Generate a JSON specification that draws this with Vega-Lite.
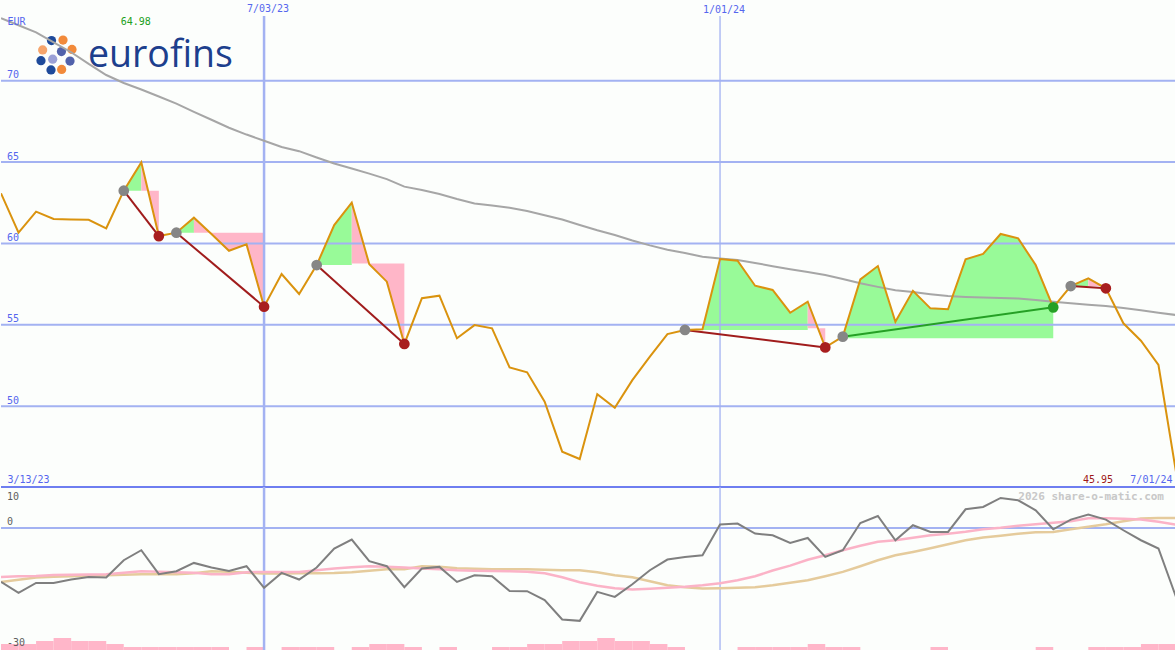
{
  "$schema": "https://vega.github.io/schema/vega-lite/v6.json",
  "background": "#fcfefc",
  "padding": 0,
  "spacing": 0,
  "bounds": "flush",
  "config": {
    "view": {"stroke": null},
    "text": {"font": "DejaVu Sans Mono", "fontSize": 10, "baseline": "alphabetic"}
  },
  "datasets": {
    "price": [
      {"d":"2023-03-20","v":63.08},{"d":"2023-03-27","v":60.66},{"d":"2023-04-03","v":61.95},{"d":"2023-04-10","v":61.5},{"d":"2023-04-17","v":61.47},{"d":"2023-04-24","v":61.45},{"d":"2023-05-01","v":60.93},{"d":"2023-05-08","v":63.24},{"d":"2023-05-15","v":64.98},{"d":"2023-05-22","v":60.45},
      {"d":"2023-05-29","v":60.66},{"d":"2023-06-05","v":61.58},{"d":"2023-06-12","v":60.58},{"d":"2023-06-19","v":59.55},{"d":"2023-06-26","v":59.94},{"d":"2023-07-03","v":56.11},{"d":"2023-07-10","v":58.12},{"d":"2023-07-17","v":56.89},{"d":"2023-07-24","v":58.67},{"d":"2023-07-31","v":61.13},
      {"d":"2023-08-07","v":62.5},{"d":"2023-08-14","v":58.72},{"d":"2023-08-21","v":57.65},{"d":"2023-08-28","v":53.82},{"d":"2023-09-04","v":56.63},{"d":"2023-09-11","v":56.79},{"d":"2023-09-18","v":54.17},{"d":"2023-09-25","v":54.98},{"d":"2023-10-02","v":54.78},{"d":"2023-10-09","v":52.38},
      {"d":"2023-10-16","v":52.08},{"d":"2023-10-23","v":50.27},{"d":"2023-10-30","v":47.2},{"d":"2023-11-06","v":46.75},{"d":"2023-11-13","v":50.74},{"d":"2023-11-20","v":49.9},{"d":"2023-11-27","v":51.6},{"d":"2023-12-04","v":53.04},{"d":"2023-12-11","v":54.43},{"d":"2023-12-18","v":54.68},
      {"d":"2023-12-25","v":54.72},{"d":"2024-01-01","v":59.04},{"d":"2024-01-08","v":58.94},{"d":"2024-01-15","v":57.4},{"d":"2024-01-22","v":57.14},{"d":"2024-01-29","v":55.74},{"d":"2024-02-05","v":56.42},{"d":"2024-02-12","v":53.61},{"d":"2024-02-19","v":54.27},{"d":"2024-02-26","v":57.79},
      {"d":"2024-03-04","v":58.61},{"d":"2024-03-11","v":55.19},{"d":"2024-03-18","v":57.09},{"d":"2024-03-25","v":56.01},{"d":"2024-04-01","v":55.95},{"d":"2024-04-08","v":59.02},{"d":"2024-04-15","v":59.35},{"d":"2024-04-22","v":60.58},{"d":"2024-04-29","v":60.31},{"d":"2024-05-06","v":58.67},
      {"d":"2024-05-13","v":56.07},{"d":"2024-05-20","v":57.38},{"d":"2024-05-27","v":57.85},{"d":"2024-06-03","v":57.24},{"d":"2024-06-10","v":55.09},{"d":"2024-06-17","v":54.02},{"d":"2024-06-24","v":52.53},{"d":"2024-07-01","v":45.95}
    ],
    "ma": [
      {"d":"2023-03-20","v":73.84},{"d":"2023-03-27","v":73.41},{"d":"2023-04-03","v":72.97},{"d":"2023-04-10","v":72.36},{"d":"2023-04-17","v":71.75},{"d":"2023-04-24","v":71.03},{"d":"2023-05-01","v":70.35},{"d":"2023-05-08","v":69.86},{"d":"2023-05-15","v":69.46},{"d":"2023-05-22","v":69.03},
      {"d":"2023-05-29","v":68.59},{"d":"2023-06-05","v":68.09},{"d":"2023-06-12","v":67.6},{"d":"2023-06-19","v":67.11},{"d":"2023-06-26","v":66.69},{"d":"2023-07-03","v":66.31},{"d":"2023-07-10","v":65.93},{"d":"2023-07-17","v":65.67},{"d":"2023-07-24","v":65.28},{"d":"2023-07-31","v":64.91},
      {"d":"2023-08-07","v":64.6},{"d":"2023-08-14","v":64.29},{"d":"2023-08-21","v":63.95},{"d":"2023-08-28","v":63.49},{"d":"2023-09-04","v":63.28},{"d":"2023-09-11","v":63.04},{"d":"2023-09-18","v":62.73},{"d":"2023-09-25","v":62.45},{"d":"2023-10-02","v":62.33},{"d":"2023-10-09","v":62.19},
      {"d":"2023-10-16","v":61.99},{"d":"2023-10-23","v":61.73},{"d":"2023-10-30","v":61.47},{"d":"2023-11-06","v":61.13},{"d":"2023-11-13","v":60.81},{"d":"2023-11-20","v":60.52},{"d":"2023-11-27","v":60.18},{"d":"2023-12-04","v":59.88},{"d":"2023-12-11","v":59.61},{"d":"2023-12-18","v":59.41},
      {"d":"2023-12-25","v":59.18},{"d":"2024-01-01","v":59.07},{"d":"2024-01-08","v":58.98},{"d":"2024-01-15","v":58.8},{"d":"2024-01-22","v":58.6},{"d":"2024-01-29","v":58.41},{"d":"2024-02-05","v":58.24},{"d":"2024-02-12","v":58.06},{"d":"2024-02-19","v":57.81},{"d":"2024-02-26","v":57.55},
      {"d":"2024-03-04","v":57.33},{"d":"2024-03-11","v":57.12},{"d":"2024-03-18","v":57.01},{"d":"2024-03-25","v":56.88},{"d":"2024-04-01","v":56.77},{"d":"2024-04-08","v":56.71},{"d":"2024-04-15","v":56.67},{"d":"2024-04-22","v":56.64},{"d":"2024-04-29","v":56.61},{"d":"2024-05-06","v":56.52},
      {"d":"2024-05-13","v":56.41},{"d":"2024-05-20","v":56.32},{"d":"2024-05-27","v":56.23},{"d":"2024-06-03","v":56.15},{"d":"2024-06-10","v":56.03},{"d":"2024-06-17","v":55.89},{"d":"2024-06-24","v":55.74},{"d":"2024-07-01","v":55.6}
    ],
    "osc": [
      {"d":"2023-03-20","v":-13.17},{"d":"2023-03-27","v":-15.85},{"d":"2023-04-03","v":-13.41},{"d":"2023-04-10","v":-13.41},{"d":"2023-04-17","v":-12.59},{"d":"2023-04-24","v":-11.95},{"d":"2023-05-01","v":-12.1},{"d":"2023-05-08","v":-7.88},{"d":"2023-05-15","v":-5.44},{"d":"2023-05-22","v":-11.29},
      {"d":"2023-05-29","v":-10.56},{"d":"2023-06-05","v":-8.54},{"d":"2023-06-12","v":-9.66},{"d":"2023-06-19","v":-10.49},{"d":"2023-06-26","v":-9.34},{"d":"2023-07-03","v":-14.63},{"d":"2023-07-10","v":-10.98},{"d":"2023-07-17","v":-12.59},{"d":"2023-07-24","v":-9.66},{"d":"2023-07-31","v":-5.02},
      {"d":"2023-08-07","v":-2.83},{"d":"2023-08-14","v":-8.12},{"d":"2023-08-21","v":-9.34},{"d":"2023-08-28","v":-14.46},{"d":"2023-09-04","v":-9.9},{"d":"2023-09-11","v":-9.51},{"d":"2023-09-18","v":-13.17},{"d":"2023-09-25","v":-11.54},{"d":"2023-10-02","v":-11.78},{"d":"2023-10-09","v":-15.37},
      {"d":"2023-10-16","v":-15.44},{"d":"2023-10-23","v":-17.63},{"d":"2023-10-30","v":-22.34},{"d":"2023-11-06","v":-22.68},{"d":"2023-11-13","v":-15.61},{"d":"2023-11-20","v":-16.83},{"d":"2023-11-27","v":-13.73},{"d":"2023-12-04","v":-10.32},{"d":"2023-12-11","v":-7.71},{"d":"2023-12-18","v":-7.07},
      {"d":"2023-12-25","v":-6.66},{"d":"2024-01-01","v":0.83},{"d":"2024-01-08","v":1.07},{"d":"2024-01-15","v":-1.37},{"d":"2024-01-22","v":-1.78},{"d":"2024-01-29","v":-3.66},{"d":"2024-02-05","v":-2.44},{"d":"2024-02-12","v":-7.07},{"d":"2024-02-19","v":-5.44},{"d":"2024-02-26","v":1.22},
      {"d":"2024-03-04","v":2.93},{"d":"2024-03-11","v":-3.0},{"d":"2024-03-18","v":0.66},{"d":"2024-03-25","v":-0.98},{"d":"2024-04-01","v":-0.98},{"d":"2024-04-08","v":4.56},{"d":"2024-04-15","v":5.12},{"d":"2024-04-22","v":7.32},{"d":"2024-04-29","v":6.76},{"d":"2024-05-06","v":4.32},
      {"d":"2024-05-13","v":-0.32},{"d":"2024-05-20","v":2.05},{"d":"2024-05-27","v":3.27},{"d":"2024-06-03","v":2.05},{"d":"2024-06-10","v":-0.56},{"d":"2024-06-17","v":-3.0},{"d":"2024-06-24","v":-5.02},{"d":"2024-07-01","v":-16.83}
    ],
    "sigpink": [
      {"d":"2023-03-20","v":-11.95},{"d":"2023-03-27","v":-11.78},{"d":"2023-04-03","v":-11.71},{"d":"2023-04-10","v":-11.46},{"d":"2023-04-17","v":-11.41},{"d":"2023-04-24","v":-11.37},{"d":"2023-05-01","v":-11.29},{"d":"2023-05-08","v":-10.93},{"d":"2023-05-15","v":-10.56},{"d":"2023-05-22","v":-10.68},
      {"d":"2023-05-29","v":-10.8},{"d":"2023-06-05","v":-10.93},{"d":"2023-06-12","v":-11.29},{"d":"2023-06-19","v":-11.29},{"d":"2023-06-26","v":-10.8},{"d":"2023-07-03","v":-10.73},{"d":"2023-07-10","v":-10.73},{"d":"2023-07-17","v":-10.73},{"d":"2023-07-24","v":-10.32},{"d":"2023-07-31","v":-9.9},
      {"d":"2023-08-07","v":-9.59},{"d":"2023-08-14","v":-9.34},{"d":"2023-08-21","v":-9.46},{"d":"2023-08-28","v":-9.66},{"d":"2023-09-04","v":-9.9},{"d":"2023-09-11","v":-10.07},{"d":"2023-09-18","v":-10.32},{"d":"2023-09-25","v":-10.44},{"d":"2023-10-02","v":-10.49},{"d":"2023-10-09","v":-10.56},
      {"d":"2023-10-16","v":-10.68},{"d":"2023-10-23","v":-11.05},{"d":"2023-10-30","v":-12.02},{"d":"2023-11-06","v":-13.24},{"d":"2023-11-13","v":-14.1},{"d":"2023-11-20","v":-14.71},{"d":"2023-11-27","v":-15.02},{"d":"2023-12-04","v":-14.83},{"d":"2023-12-11","v":-14.59},{"d":"2023-12-18","v":-14.34},
      {"d":"2023-12-25","v":-13.98},{"d":"2024-01-01","v":-13.49},{"d":"2024-01-08","v":-12.76},{"d":"2024-01-15","v":-11.78},{"d":"2024-01-22","v":-10.4},{"d":"2024-01-29","v":-9.2},{"d":"2024-02-05","v":-7.76},{"d":"2024-02-12","v":-6.66},{"d":"2024-02-19","v":-5.44},{"d":"2024-02-26","v":-4.34},
      {"d":"2024-03-04","v":-3.37},{"d":"2024-03-11","v":-3.0},{"d":"2024-03-18","v":-2.39},{"d":"2024-03-25","v":-1.78},{"d":"2024-04-01","v":-1.41},{"d":"2024-04-08","v":-0.93},{"d":"2024-04-15","v":-0.32},{"d":"2024-04-22","v":0.05},{"d":"2024-04-29","v":0.54},{"d":"2024-05-06","v":0.9},
      {"d":"2024-05-13","v":1.27},{"d":"2024-05-20","v":1.63},{"d":"2024-05-27","v":2.37},{"d":"2024-06-03","v":2.37},{"d":"2024-06-10","v":2.24},{"d":"2024-06-17","v":2.05},{"d":"2024-06-24","v":1.51},{"d":"2024-07-01","v":0.83}
    ],
    "sigtan": [
      {"d":"2023-03-20","v":-13.17},{"d":"2023-03-27","v":-12.63},{"d":"2023-04-03","v":-12.1},{"d":"2023-04-10","v":-11.9},{"d":"2023-04-17","v":-11.78},{"d":"2023-04-24","v":-11.66},{"d":"2023-05-01","v":-11.54},{"d":"2023-05-08","v":-11.41},{"d":"2023-05-15","v":-11.29},{"d":"2023-05-22","v":-11.29},
      {"d":"2023-05-29","v":-11.29},{"d":"2023-06-05","v":-11.05},{"d":"2023-06-12","v":-10.56},{"d":"2023-06-19","v":-10.68},{"d":"2023-06-26","v":-10.93},{"d":"2023-07-03","v":-11.12},{"d":"2023-07-10","v":-11.12},{"d":"2023-07-17","v":-11.05},{"d":"2023-07-24","v":-11.05},{"d":"2023-07-31","v":-10.98},
      {"d":"2023-08-07","v":-10.8},{"d":"2023-08-14","v":-10.44},{"d":"2023-08-21","v":-10.07},{"d":"2023-08-28","v":-10.07},{"d":"2023-09-04","v":-9.34},{"d":"2023-09-11","v":-9.46},{"d":"2023-09-18","v":-9.83},{"d":"2023-09-25","v":-9.95},{"d":"2023-10-02","v":-10.07},{"d":"2023-10-09","v":-10.07},
      {"d":"2023-10-16","v":-10.07},{"d":"2023-10-23","v":-10.2},{"d":"2023-10-30","v":-10.32},{"d":"2023-11-06","v":-10.32},{"d":"2023-11-13","v":-10.8},{"d":"2023-11-20","v":-11.54},{"d":"2023-11-27","v":-12.02},{"d":"2023-12-04","v":-13.0},{"d":"2023-12-11","v":-13.98},{"d":"2023-12-18","v":-14.46},
      {"d":"2023-12-25","v":-14.78},{"d":"2024-01-01","v":-14.71},{"d":"2024-01-08","v":-14.63},{"d":"2024-01-15","v":-14.46},{"d":"2024-01-22","v":-13.98},{"d":"2024-01-29","v":-13.37},{"d":"2024-02-05","v":-12.76},{"d":"2024-02-12","v":-11.78},{"d":"2024-02-19","v":-10.73},{"d":"2024-02-26","v":-9.34},
      {"d":"2024-03-04","v":-7.88},{"d":"2024-03-11","v":-6.66},{"d":"2024-03-18","v":-5.85},{"d":"2024-03-25","v":-4.95},{"d":"2024-04-01","v":-3.98},{"d":"2024-04-08","v":-3.0},{"d":"2024-04-15","v":-2.34},{"d":"2024-04-22","v":-1.9},{"d":"2024-04-29","v":-1.41},{"d":"2024-05-06","v":-1.05},
      {"d":"2024-05-13","v":-0.98},{"d":"2024-05-20","v":-0.32},{"d":"2024-05-27","v":0.29},{"d":"2024-06-03","v":0.9},{"d":"2024-06-10","v":1.63},{"d":"2024-06-17","v":2.29},{"d":"2024-06-24","v":2.44},{"d":"2024-07-01","v":2.44}
    ],
    "vol": [
      {"d":"2023-03-20","e":"2023-03-27","q":2},{"d":"2023-03-27","e":"2023-04-03","q":2},{"d":"2023-04-03","e":"2023-04-10","q":3},{"d":"2023-04-10","e":"2023-04-17","q":4},{"d":"2023-04-17","e":"2023-04-24","q":3},{"d":"2023-04-24","e":"2023-05-01","q":3},{"d":"2023-05-01","e":"2023-05-08","q":2},
      {"d":"2023-05-08","e":"2023-05-15","q":1},{"d":"2023-05-15","e":"2023-05-22","q":1},{"d":"2023-05-22","e":"2023-05-29","q":1},{"d":"2023-05-29","e":"2023-06-05","q":1},{"d":"2023-06-05","e":"2023-06-12","q":1},{"d":"2023-06-12","e":"2023-06-19","q":1},
      {"d":"2023-06-26","e":"2023-07-03","q":1},{"d":"2023-07-10","e":"2023-07-17","q":1},{"d":"2023-07-17","e":"2023-07-24","q":1},{"d":"2023-07-24","e":"2023-07-31","q":1},{"d":"2023-08-07","e":"2023-08-14","q":1},{"d":"2023-08-14","e":"2023-08-21","q":2},{"d":"2023-08-21","e":"2023-08-28","q":2},
      {"d":"2023-08-28","e":"2023-09-04","q":1},{"d":"2023-09-11","e":"2023-09-18","q":1},{"d":"2023-10-02","e":"2023-10-09","q":1},{"d":"2023-10-09","e":"2023-10-16","q":1},{"d":"2023-10-16","e":"2023-10-23","q":2},{"d":"2023-10-23","e":"2023-10-30","q":2},
      {"d":"2023-10-30","e":"2023-11-06","q":3},{"d":"2023-11-06","e":"2023-11-13","q":3},{"d":"2023-11-13","e":"2023-11-20","q":4},{"d":"2023-11-20","e":"2023-11-27","q":3},{"d":"2023-11-27","e":"2023-12-04","q":3},{"d":"2023-12-04","e":"2023-12-11","q":2},{"d":"2023-12-11","e":"2023-12-18","q":1},
      {"d":"2024-01-08","e":"2024-01-15","q":1},{"d":"2024-01-15","e":"2024-01-22","q":1},{"d":"2024-01-22","e":"2024-01-29","q":1},{"d":"2024-01-29","e":"2024-02-05","q":1},{"d":"2024-02-05","e":"2024-02-12","q":2},{"d":"2024-02-12","e":"2024-02-19","q":1},{"d":"2024-02-19","e":"2024-02-26","q":1},
      {"d":"2024-03-25","e":"2024-04-01","q":1},{"d":"2024-05-06","e":"2024-05-13","q":1},{"d":"2024-05-27","e":"2024-06-03","q":1},{"d":"2024-06-03","e":"2024-06-10","q":1},{"d":"2024-06-10","e":"2024-06-17","q":1},{"d":"2024-06-17","e":"2024-06-24","q":2},{"d":"2024-06-24","e":"2024-07-01","q":2}
    ],
    "zones": [
      {"z":"1g","c":"g","d":"2023-05-08","v":63.24,"b":63.24},{"z":"1g","c":"g","d":"2023-05-15","v":64.98,"b":63.24},
      {"z":"1r","c":"r","d":"2023-05-15","v":64.98,"b":63.24},{"z":"1r","c":"r","d":"2023-05-22","v":60.45,"b":63.24},
      {"z":"2g","c":"g","d":"2023-05-29","v":60.66,"b":60.66},{"z":"2g","c":"g","d":"2023-06-05","v":61.58,"b":60.66},
      {"z":"2r","c":"r","d":"2023-06-05","v":61.58,"b":60.66},{"z":"2r","c":"r","d":"2023-06-12","v":60.58,"b":60.66},{"z":"2r","c":"r","d":"2023-06-19","v":59.55,"b":60.66},{"z":"2r","c":"r","d":"2023-06-26","v":59.94,"b":60.66},{"z":"2r","c":"r","d":"2023-07-03","v":56.11,"b":60.66},
      {"z":"3g","c":"g","d":"2023-07-24","v":58.67,"b":58.67},{"z":"3g","c":"g","d":"2023-07-31","v":61.13,"b":58.67},{"z":"3g","c":"g","d":"2023-08-07","v":62.5,"b":58.67},
      {"z":"3r","c":"r","d":"2023-08-07","v":62.5,"b":58.77},{"z":"3r","c":"r","d":"2023-08-14","v":58.72,"b":58.77},{"z":"3r","c":"r","d":"2023-08-21","v":57.65,"b":58.77},{"z":"3r","c":"r","d":"2023-08-28","v":53.82,"b":58.77},
      {"z":"4g","c":"g","d":"2023-12-18","v":54.68,"b":54.68},{"z":"4g","c":"g","d":"2023-12-25","v":54.72,"b":54.68},{"z":"4g","c":"g","d":"2024-01-01","v":59.04,"b":54.68},{"z":"4g","c":"g","d":"2024-01-08","v":58.94,"b":54.68},{"z":"4g","c":"g","d":"2024-01-15","v":57.4,"b":54.68},{"z":"4g","c":"g","d":"2024-01-22","v":57.14,"b":54.68},{"z":"4g","c":"g","d":"2024-01-29","v":55.74,"b":54.68},{"z":"4g","c":"g","d":"2024-02-05","v":56.42,"b":54.68},
      {"z":"4r","c":"r","d":"2024-02-05","v":56.42,"b":54.78},{"z":"4r","c":"r","d":"2024-02-12","v":53.61,"b":54.78},
      {"z":"5g","c":"g","d":"2024-02-19","v":54.27,"b":54.17},{"z":"5g","c":"g","d":"2024-02-26","v":57.79,"b":54.17},{"z":"5g","c":"g","d":"2024-03-04","v":58.61,"b":54.17},{"z":"5g","c":"g","d":"2024-03-11","v":55.19,"b":54.17},{"z":"5g","c":"g","d":"2024-03-18","v":57.09,"b":54.17},{"z":"5g","c":"g","d":"2024-03-25","v":56.01,"b":54.17},{"z":"5g","c":"g","d":"2024-04-01","v":55.95,"b":54.17},{"z":"5g","c":"g","d":"2024-04-08","v":59.02,"b":54.17},{"z":"5g","c":"g","d":"2024-04-15","v":59.35,"b":54.17},{"z":"5g","c":"g","d":"2024-04-22","v":60.58,"b":54.17},{"z":"5g","c":"g","d":"2024-04-29","v":60.31,"b":54.17},{"z":"5g","c":"g","d":"2024-05-06","v":58.67,"b":54.17},{"z":"5g","c":"g","d":"2024-05-13","v":56.07,"b":54.17},
      {"z":"6g","c":"g","d":"2024-05-20","v":57.38,"b":57.38},{"z":"6g","c":"g","d":"2024-05-27","v":57.85,"b":57.38},
      {"z":"6r","c":"r","d":"2024-05-27","v":57.85,"b":57.38},{"z":"6r","c":"r","d":"2024-06-03","v":57.24,"b":57.38}
    ],
    "trend": [
      {"s":1,"c":"r","d":"2023-05-08","v":63.24},{"s":1,"c":"r","d":"2023-05-22","v":60.45},
      {"s":2,"c":"r","d":"2023-05-29","v":60.66},{"s":2,"c":"r","d":"2023-07-03","v":56.11},
      {"s":3,"c":"r","d":"2023-07-24","v":58.67},{"s":3,"c":"r","d":"2023-08-28","v":53.82},
      {"s":4,"c":"r","d":"2023-12-18","v":54.68},{"s":4,"c":"r","d":"2024-02-12","v":53.61},
      {"s":5,"c":"g","d":"2024-02-19","v":54.27},{"s":5,"c":"g","d":"2024-05-13","v":56.07},
      {"s":6,"c":"r","d":"2024-05-20","v":57.38},{"s":6,"c":"r","d":"2024-06-03","v":57.24}
    ],
    "dots": [
      {"k":"start","d":"2023-05-08","v":63.24},{"k":"start","d":"2023-05-29","v":60.66},{"k":"start","d":"2023-07-24","v":58.67},{"k":"start","d":"2023-12-18","v":54.68},{"k":"start","d":"2024-02-19","v":54.27},{"k":"start","d":"2024-05-20","v":57.38},
      {"k":"down","d":"2023-05-22","v":60.45},{"k":"down","d":"2023-07-03","v":56.11},{"k":"down","d":"2023-08-28","v":53.82},{"k":"down","d":"2024-02-12","v":53.61},{"k":"down","d":"2024-06-03","v":57.24},
      {"k":"up","d":"2024-05-13","v":56.07}
    ],
    "logo": [
      {"k":"navy","d":"2023-04-09T04:00:00Z","v":72.47},{"k":"orange","d":"2023-04-13T18:00:00Z","v":72.5},
      {"k":"peach","d":"2023-04-05T15:00:00Z","v":71.89},{"k":"blue","d":"2023-04-13T03:00:00Z","v":71.79},{"k":"orange","d":"2023-04-17T08:00:00Z","v":71.92},
      {"k":"lilac","d":"2023-04-09T15:00:00Z","v":71.32},{"k":"navy","d":"2023-04-04T23:00:00Z","v":71.23},{"k":"blue","d":"2023-04-16T13:00:00Z","v":71.21},
      {"k":"navy","d":"2023-04-08T23:00:00Z","v":70.66},{"k":"orange","d":"2023-04-13T05:00:00Z","v":70.69}
    ],
    "grid": [
      {"d":"2023-03-20","e":"2024-07-01","v":70},{"d":"2023-03-20","e":"2024-07-01","v":65},{"d":"2023-03-20","e":"2024-07-01","v":60},{"d":"2023-03-20","e":"2024-07-01","v":55},{"d":"2023-03-20","e":"2024-07-01","v":50}
    ]
  },
  "vconcat": [
    {
      "width": 1175,
      "height": 487,
      "encoding": {
        "x": {"field": "d", "type": "temporal", "scale": {"type": "utc", "domain": [{"year": 2023, "month": 3, "date": 20, "utc": true}, {"year": 2024, "month": 7, "date": 1, "utc": true}]}, "axis": null},
        "y": {"field": "v", "type": "quantitative", "scale": {"domain": [45.03, 74.96], "nice": false, "zero": false}, "axis": null}
      },
      "layer": [
        {"data": {"name": "zones"}, "transform": [{"filter": "datum.c == 'g'"}], "mark": {"type": "area", "color": "#98fa98", "opacity": 1, "clip": true}, "encoding": {"y2": {"field": "b"}, "detail": {"field": "z"}}},
        {"data": {"name": "zones"}, "transform": [{"filter": "datum.c == 'r'"}], "mark": {"type": "area", "color": "#ffb6c8", "opacity": 1, "clip": true}, "encoding": {"y2": {"field": "b"}, "detail": {"field": "z"}}},
        {"data": {"name": "grid", "format": {"parse": {"d": "date", "e": "date"}}}, "mark": {"type": "rule", "color": "#a3b2f2", "strokeWidth": 2, "clip": true}, "encoding": {"x2": {"field": "e"}}},
        {"data": {"values": [{"d": "2023-07-03", "v": 73.98, "b": 45.03}]}, "mark": {"type": "rule", "color": "#a3b2f2", "strokeWidth": 2.5, "clip": true}, "encoding": {"y2": {"field": "b"}}},
        {"data": {"values": [{"d": "2024-01-01", "v": 73.98, "b": 45.03}]}, "mark": {"type": "rule", "color": "#a3b2f2", "strokeWidth": 1.3, "clip": true}, "encoding": {"y2": {"field": "b"}}},
        {"data": {"name": "logo"}, "mark": {"type": "point", "filled": true, "size": 85, "opacity": 1}, "encoding": {"color": {"field": "k", "type": "nominal", "scale": {"domain": ["start", "down", "up", "navy", "orange", "peach", "blue", "lilac"], "range": ["#868686", "#a81e1e", "#25a025", "#1e4a9a", "#f28a3a", "#f6a56c", "#5162ab", "#9aa0d6"]}, "legend": null}}},
        {"data": {"values": [{"t": "eurofins", "d": "2023-04-23T17:00:00Z", "v": 70.87}]}, "mark": {"type": "text", "align": "left", "font": "Open Sans", "fontSize": 37.5, "color": "#1d3f8d"}, "encoding": {"text": {"field": "t"}}},
        {"data": {"name": "ma"}, "mark": {"type": "line", "color": "#a6a6a6", "strokeWidth": 2, "clip": true}},
        {"data": {"name": "trend"}, "transform": [{"filter": "datum.c == 'r'"}], "mark": {"type": "line", "color": "#a01c1c", "strokeWidth": 2, "clip": true}, "encoding": {"detail": {"field": "s"}}},
        {"data": {"name": "trend"}, "transform": [{"filter": "datum.c == 'g'"}], "mark": {"type": "line", "color": "#25a025", "strokeWidth": 2, "clip": true}, "encoding": {"detail": {"field": "s"}}},
        {"data": {"name": "price"}, "mark": {"type": "line", "color": "#da930e", "strokeWidth": 2, "clip": true}},
        {"data": {"name": "dots"}, "mark": {"type": "point", "filled": true, "size": 115, "opacity": 1}, "encoding": {"color": {"field": "k", "type": "nominal", "scale": {"domain": ["start", "down", "up", "navy", "orange", "peach", "blue", "lilac"], "range": ["#868686", "#a81e1e", "#25a025", "#1e4a9a", "#f28a3a", "#f6a56c", "#5162ab", "#9aa0d6"]}, "legend": null}}},
        {"data": {"name": "grid"}, "mark": {"type": "text", "align": "left", "dx": 6, "dy": -2.5, "color": "#5566ee"}, "encoding": {"text": {"field": "v", "format": "d"}}},
        {"data": {"values": [{"t": "EUR", "d": "2023-03-20", "v": 73.42}, {"t": "3/13/23", "d": "2023-03-20", "v": 45.26}]}, "mark": {"type": "text", "align": "left", "dx": 6.5, "color": "#5566ee"}, "encoding": {"text": {"field": "t"}}},
        {"data": {"values": [{"t": "7/03/23", "d": "2023-07-03", "v": 74.2}, {"t": "1/01/24", "d": "2024-01-01", "v": 74.16}]}, "mark": {"type": "text", "align": "center", "dx": 4, "color": "#5566ee"}, "encoding": {"text": {"field": "t"}}},
        {"data": {"values": [{"t": "7/01/24", "d": "2024-07-01", "v": 45.26}]}, "mark": {"type": "text", "align": "right", "dx": -3.5, "color": "#5566ee"}, "encoding": {"text": {"field": "t"}}},
        {"data": {"values": [{"t": "64.98", "d": "2023-05-15", "v": 73.42}]}, "mark": {"type": "text", "align": "center", "dx": -5.5, "color": "#20a020"}, "encoding": {"text": {"field": "t"}}},
        {"data": {"values": [{"t": "45.95", "d": "2024-07-01", "v": 45.26}]}, "mark": {"type": "text", "align": "right", "dx": -63, "color": "#a01818"}, "encoding": {"text": {"field": "t"}}}
      ]
    },
    {
      "width": 1175,
      "height": 163,
      "encoding": {
        "x": {"field": "d", "type": "temporal", "scale": {"type": "utc", "domain": [{"year": 2023, "month": 3, "date": 20, "utc": true}, {"year": 2024, "month": 7, "date": 1, "utc": true}]}, "axis": null},
        "y": {"field": "v", "type": "quantitative", "scale": {"domain": [-29.8, 10], "nice": false, "zero": false}, "axis": null}
      },
      "resolve": {"scale": {"y": "independent"}},
      "layer": [
        {"data": {"name": "vol", "format": {"parse": {"d": "date", "e": "date"}}}, "mark": {"type": "rect", "color": "#ffb6c9", "clip": true}, "encoding": {"x2": {"field": "e"}, "y": {"field": "q", "type": "quantitative", "scale": {"domain": [0, 54.33], "nice": false}, "axis": null}, "y2": {"datum": 0}}},
        {"data": {"values": [{"d": "2023-03-20", "e": "2024-07-01", "v": 0}], "format": {"parse": {"d": "date", "e": "date"}}}, "mark": {"type": "rule", "color": "#a3b2f2", "strokeWidth": 2, "clip": true}, "encoding": {"x2": {"field": "e"}}},
        {"data": {"values": [{"d": "2023-03-20", "e": "2024-07-01", "v": 10}], "format": {"parse": {"d": "date", "e": "date"}}}, "mark": {"type": "rule", "color": "#6e7ef0", "strokeWidth": 2}, "encoding": {"x2": {"field": "e"}}},
        {"data": {"values": [{"d": "2023-07-03", "v": 10, "b": -29.8}]}, "mark": {"type": "rule", "color": "#a3b2f2", "strokeWidth": 2.5, "clip": true}, "encoding": {"y2": {"field": "b"}}},
        {"data": {"values": [{"d": "2024-01-01", "v": 10, "b": -29.8}]}, "mark": {"type": "rule", "color": "#a3b2f2", "strokeWidth": 1.3, "clip": true}, "encoding": {"y2": {"field": "b"}}},
        {"data": {"name": "sigtan"}, "mark": {"type": "line", "color": "#e5cb9c", "strokeWidth": 2.5, "clip": true}},
        {"data": {"name": "sigpink"}, "mark": {"type": "line", "color": "#fbb3c7", "strokeWidth": 2.5, "clip": true}},
        {"data": {"name": "osc"}, "mark": {"type": "line", "color": "#7f7f7f", "strokeWidth": 2, "clip": true}},
        {"data": {"values": [{"t": "10", "d": "2023-03-20", "v": 6.93}, {"t": "0", "d": "2023-03-20", "v": 0.66}, {"t": "-30", "d": "2023-03-20", "v": -28.78}]}, "mark": {"type": "text", "align": "left", "dx": 6, "color": "#5e5e5e"}, "encoding": {"text": {"field": "t"}}},
        {"data": {"values": [{"t": "2026 share-o-matic.com", "d": "2024-07-01", "v": 6.76}]}, "mark": {"type": "text", "align": "right", "dx": -12, "fontSize": 11, "fontWeight": "bold", "color": "#c8c8c8"}, "encoding": {"text": {"field": "t"}}}
      ]
    }
  ]
}
